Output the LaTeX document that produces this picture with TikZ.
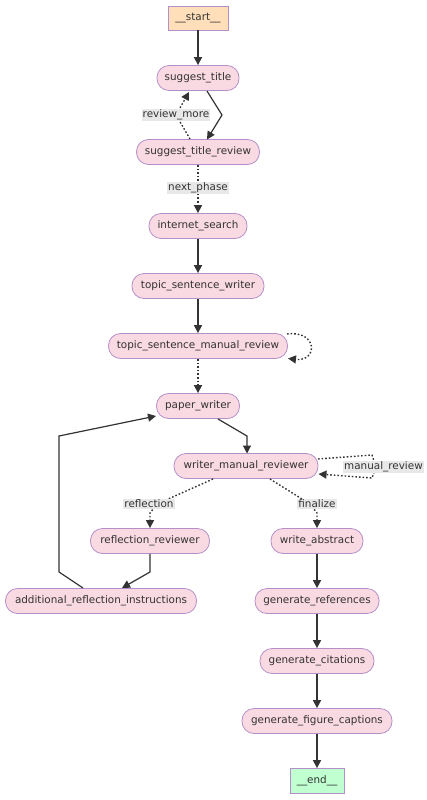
\documentclass[tikz,border=0pt]{standalone}
\usepackage{fontspec}
\setmainfont{DejaVu Sans}
\usetikzlibrary{arrows.meta,calc}
\definecolor{nodefill}{HTML}{F9D9E2}
\definecolor{nodeborder}{HTML}{B590C8}
\definecolor{startfill}{HTML}{FFDFBA}
\definecolor{endfill}{HTML}{BFFFD0}
\definecolor{edgecol}{HTML}{333333}
\definecolor{lblfill}{HTML}{E8E8E8}
\definecolor{txtcol}{HTML}{333333}
\tikzset{
  base/.style={draw=nodeborder, line width=0.8pt, text=txtcol, inner sep=0pt, font=\fontsize{10.4}{12}\selectfont},
  pill/.style={base, fill=nodefill, rounded corners=12pt, minimum height=25pt},
  startbox/.style={base, fill=startfill, minimum height=24pt},
  endbox/.style={base, fill=endfill, minimum height=25pt},
  lbl/.style={fill=lblfill, text=txtcol, inner sep=1pt, font=\fontsize{10.4}{12}\selectfont},
  edge/.style={draw=edgecol, line width=1.6pt, -{Triangle[length=8pt,width=8pt]}},
  thinedge/.style={edge, line width=1.2pt},
  dedge/.style={edge, dotted, line width=1.6pt},
  tdedge/.style={edge, dotted, line width=1.4pt},
}
\begin{document}
\begin{tikzpicture}[x=1pt,y=-1pt]
\useasboundingbox[fill=white] (0,0) rectangle (427,800);
\node[startbox, minimum width=60pt] (start) at (198,18) {\_\_start\_\_};
\node[pill, minimum width=82pt] (st) at (198,78) {suggest\_title};
\node[pill, minimum width=123pt] (str) at (198,152) {suggest\_title\_review};
\node[pill, minimum width=98pt] (is) at (198,226) {internet\_search};
\node[pill, minimum width=132pt] (tsw) at (198,286) {topic\_sentence\_writer};
\node[pill, minimum width=179pt] (tsmr) at (198,346) {topic\_sentence\_manual\_review};
\node[pill, minimum width=83pt] (pw) at (198,406) {paper\_writer};
\node[pill, minimum width=144pt] (wmr) at (246,466) {writer\_manual\_reviewer};
\node[pill, minimum width=119pt] (rr) at (150,541) {reflection\_reviewer};
\node[pill, minimum width=92pt] (wa) at (317,541) {write\_abstract};
\node[pill, minimum width=191pt] (ari) at (101,601) {additional\_reflection\_instructions};
\node[pill, minimum width=124pt] (gr) at (317,601) {generate\_references};
\node[pill, minimum width=114pt] (gc) at (317,661) {generate\_citations};
\node[pill, minimum width=150pt] (gfc) at (317,721) {generate\_figure\_captions};
\node[endbox, minimum width=54pt] (end) at (317,781) {\_\_end\_\_};

% label positions
\coordinate (lrmc) at (176,115);
\coordinate (lnpc) at (198,188);
\coordinate (lmrc) at (376,467);
\coordinate (lrefc) at (157,504);
\coordinate (lfinc) at (310,504);

% edges
\draw[edge] (start) -- (st);
\coordinate (b1) at (222,115);
\draw[thinedge] (207,91) -- (b1) -- (207,139.5);
\draw[tdedge] (190,139) -- (lrmc) -- (189,92);
\draw[dedge] (str) -- (lnpc) -- (is);
\draw[edge] (is) -- (tsw);
\draw[edge] (tsw) -- (tsmr);
\draw[tdedge] (287,334) .. controls (318,330) and (318,362) .. (288,358.5);
\draw[dedge] (tsmr) -- (pw);
\coordinate (c1) at (247,436);
\draw[thinedge] (218,419) -- (c1) -- (247,453.5);
\coordinate (a1) at (59,572);
\coordinate (a2) at (59,436);
\draw[thinedge] (83,588) -- (a1) -- (a2) -- (156,416);
\draw[tdedge] (318,459) -- (372,455) -- (lmrc) -- (372,478) -- (318.5,474);
\draw[tdedge] (213,479) -- (lrefc) -- (150,513) -- (rr);
\draw[tdedge] (270,479) -- (lfinc) -- (317,513) -- (wa);
\coordinate (r1) at (150,572);
\draw[thinedge] (rr) -- (r1) -- (122,588);
\draw[edge] (wa) -- (gr);
\draw[edge] (gr) -- (gc);
\draw[edge] (gc) -- (gfc);
\draw[edge] (gfc) -- (end);

% labels on top
\node[lbl] (lrm) at (lrmc) {review\_more};
\node[lbl] (lnp) at (lnpc) {next\_phase};
\node[lbl, anchor=west] (lmr) at (343,467) {manual\_review};
\node[lbl] (lref) at (149,504) {reflection};
\node[lbl] (lfin) at (317,504) {finalize};
\end{tikzpicture}
\end{document}
